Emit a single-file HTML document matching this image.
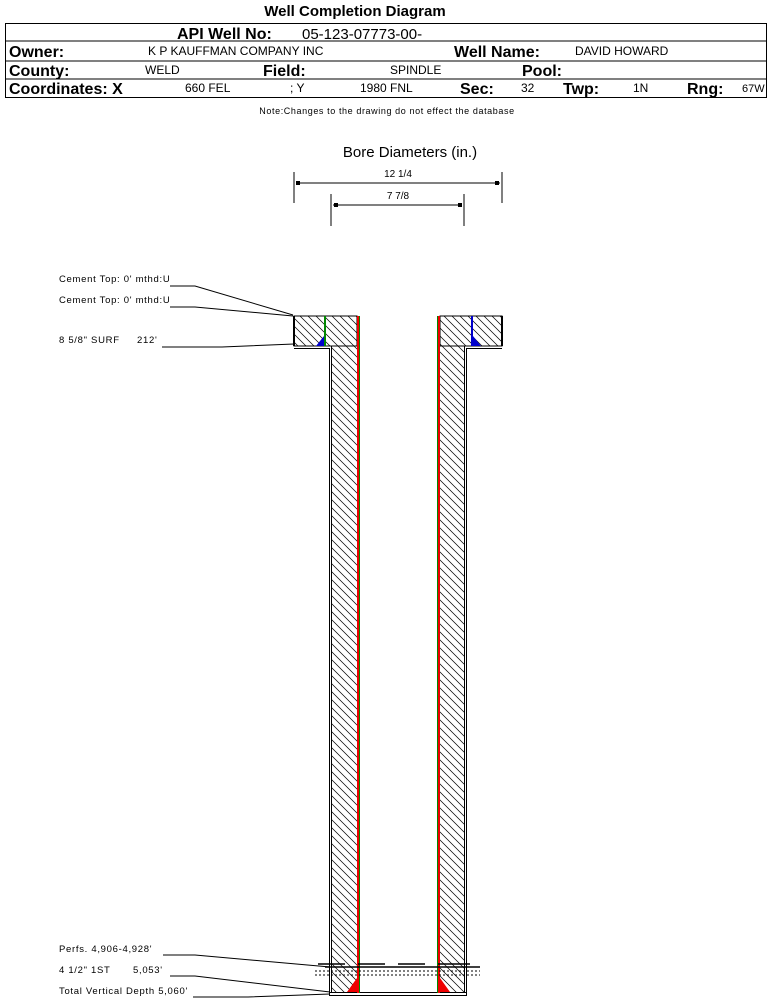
<!DOCTYPE html>
<html><head><style>
body{margin:0;background:#fff;width:769px;height:999px;overflow:hidden;font-family:"Liberation Sans",sans-serif}
svg{position:absolute;left:0;top:0}
</style></head><body>
<svg width="769" height="999" viewBox="0 0 769 999" font-family="Liberation Sans, sans-serif">
<defs>
<pattern id="h" width="8" height="8" patternUnits="userSpaceOnUse">
<path d="M0,0 L8,8 M-2,6 L2,10 M6,-2 L10,2" stroke="#000" stroke-width="0.7"/>
</pattern>
</defs>
<text x="355" y="16" font-size="15" font-weight="bold" text-anchor="middle">Well Completion Diagram</text>
<rect x="5.5" y="23.5" width="761" height="74" fill="none" stroke="#000"/>
<line x1="5" y1="41" x2="767" y2="41" stroke="#000"/>
<line x1="5" y1="61" x2="767" y2="61" stroke="#000"/>
<line x1="5" y1="79" x2="767" y2="79" stroke="#000"/>
<text x="177" y="39" font-size="16" font-weight="bold">API Well No:</text>
<text x="302" y="39" font-size="15">05-123-07773-00-</text>
<g font-size="16" font-weight="bold">
<text x="9" y="57">Owner:</text><text x="454" y="57">Well Name:</text>
<text x="9" y="76">County:</text><text x="263" y="76">Field:</text><text x="522" y="76">Pool:</text>
<text x="9" y="94">Coordinates: X</text><text x="460" y="94">Sec:</text><text x="563" y="94">Twp:</text><text x="687" y="94">Rng:</text>
</g>
<g font-size="12">
<text x="148" y="55">K P KAUFFMAN COMPANY INC</text><text x="575" y="55">DAVID HOWARD</text>
<text x="145" y="74">WELD</text><text x="390" y="74">SPINDLE</text>
<text x="185" y="92">660 FEL</text><text x="290" y="92">; Y</text><text x="360" y="92">1980 FNL</text><text x="521" y="92">32</text><text x="633" y="92">1N</text><text x="742" y="92" font-size="11">67W</text>
</g>
<text x="387" y="114" font-size="9" letter-spacing="0.6" text-anchor="middle">Note:Changes to the drawing do not effect the database</text>
<text x="410" y="157" font-size="15" text-anchor="middle">Bore Diameters (in.)</text>
<g stroke="#000" fill="none">
<line x1="294" y1="172" x2="294" y2="203"/><line x1="502" y1="172" x2="502" y2="203"/>
<line x1="296" y1="183" x2="500" y2="183"/>
<line x1="331" y1="194" x2="331" y2="226"/><line x1="464" y1="194" x2="464" y2="226"/>
<line x1="333" y1="205" x2="462" y2="205"/>
</g>
<rect x="296" y="181" width="4" height="4"/><rect x="495" y="181" width="4" height="4"/>
<rect x="334" y="203" width="4" height="4"/><rect x="458" y="203" width="4" height="4"/>
<text x="398" y="177" font-size="10" text-anchor="middle">12 1/4</text>
<text x="398" y="199" font-size="10" text-anchor="middle">7 7/8</text>
<rect x="294" y="316" width="63" height="30" fill="url(#h)"/>
<rect x="331" y="346" width="26" height="647" fill="url(#h)"/>
<rect x="440" y="316" width="62" height="30" fill="url(#h)"/>
<rect x="440" y="346" width="25" height="647" fill="url(#h)"/>
<rect x="294" y="316" width="63" height="30" fill="none" stroke="#000"/>
<rect x="440" y="316" width="62" height="30" fill="none" stroke="#000"/>
<line x1="294" y1="316" x2="294" y2="346" stroke="#000" stroke-width="2"/>
<line x1="502" y1="316" x2="502" y2="346" stroke="#000" stroke-width="2"/>
<polyline points="294,348.5 329.5,348.5 329.5,995" fill="none" stroke="#000"/>
<polyline points="502,348.5 466.5,348.5 466.5,995" fill="none" stroke="#000"/>
<line x1="331.5" y1="346" x2="331.5" y2="993" stroke="#000"/>
<line x1="464.5" y1="346" x2="464.5" y2="993" stroke="#000"/>
<line x1="329" y1="992.5" x2="467" y2="992.5" stroke="#000"/>
<line x1="329" y1="995.5" x2="467" y2="995.5" stroke="#000"/>
<rect x="357" y="316" width="2" height="677" fill="#e00"/><rect x="359" y="316" width="1" height="677" fill="#080"/>
<rect x="437" y="316" width="1" height="677" fill="#080"/><rect x="438" y="316" width="2" height="677" fill="#e00"/>
<rect x="324" y="316" width="2" height="30" fill="#080"/>
<rect x="471" y="316" width="2" height="30" fill="#00c"/>
<polygon points="324,336 324,346 316,346" fill="#00c"/>
<polygon points="473,336 473,346 481,346" fill="#00c"/>
<polygon points="357,978 357,992 347,992" fill="#e00"/>
<polygon points="440,978 440,992 450,992" fill="#e00"/>
<rect x="360" y="960" width="77" height="18" fill="#fff"/>
<g stroke="#000" stroke-width="1.5">
<line x1="318" y1="964" x2="345" y2="964"/><line x1="358" y1="964" x2="385" y2="964"/><line x1="398" y1="964" x2="425" y2="964"/><line x1="438" y1="964" x2="470" y2="964"/>
<line x1="325" y1="967" x2="480" y2="967"/>
</g>
<g stroke="#000" stroke-dasharray="2,2">
<line x1="315" y1="971" x2="480" y2="971"/><line x1="315" y1="975" x2="480" y2="975"/>
</g>
<g font-size="9.5" letter-spacing="0.7">
<text x="59" y="282">Cement Top: 0' mthd:U</text>
<text x="59" y="303">Cement Top: 0' mthd:U</text>
<text x="59" y="343">8 5/8" SURF</text><text x="137" y="343">212'</text>
<text x="59" y="952">Perfs. 4,906-4,928'</text>
<text x="59" y="973">4 1/2" 1ST</text><text x="133" y="973">5,053'</text>
<text x="59" y="994">Total Vertical Depth 5,060'</text>
</g>
<g stroke="#000" fill="none">
<polyline points="170,286 195,286 293,315"/>
<polyline points="170,307 195,307 293,316"/>
<polyline points="162,347 222,347 294,344"/>
<polyline points="163,955 195,955 330,967"/>
<polyline points="170,976 195,976 330,992"/>
<polyline points="193,997 248,997 330,994"/>
</g>
</svg>
</body></html>
